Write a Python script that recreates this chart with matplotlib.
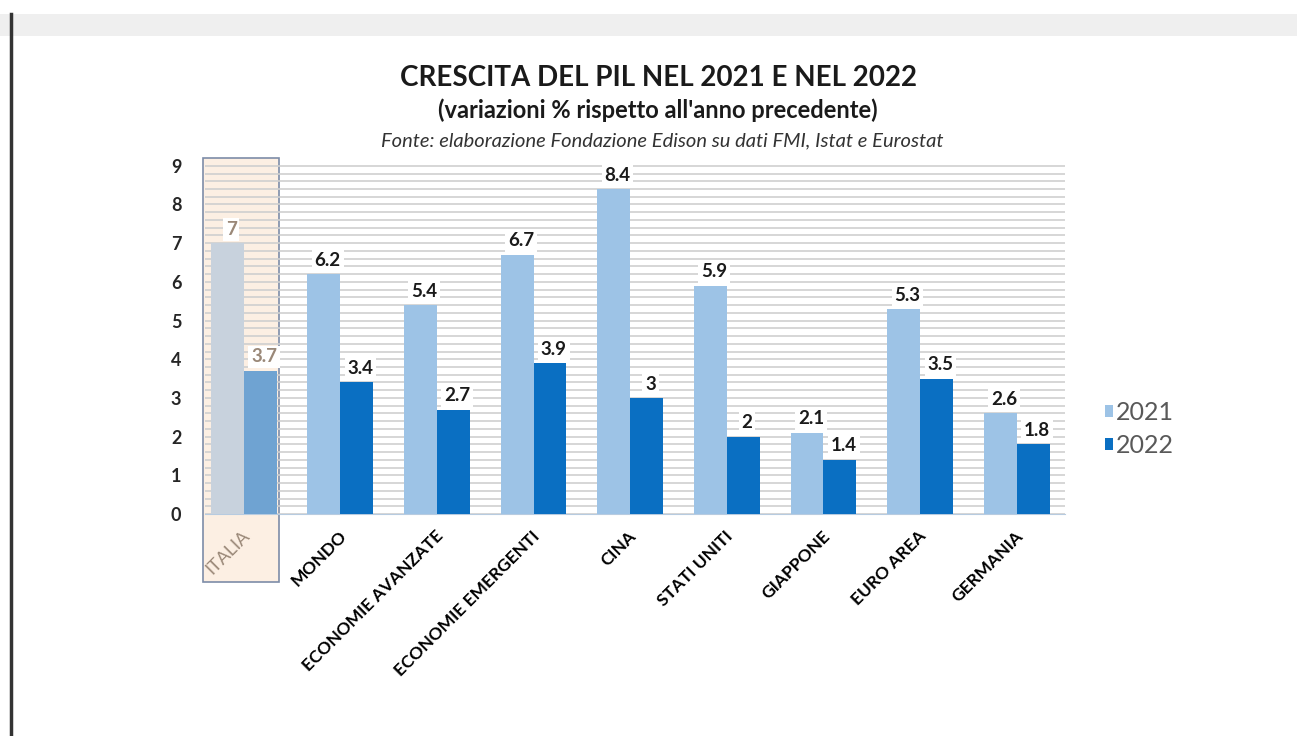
import numpy as np
import matplotlib.pyplot as plt
from matplotlib.patches import Rectangle

plt.rcParams['font.family'] = ['Lato', 'DejaVu Sans']

categories = ["ITALIA", "MONDO", "ECONOMIE AVANZATE", "ECONOMIE EMERGENTI", "CINA",
              "STATI UNITI", "GIAPPONE", "EURO AREA", "GERMANIA"]
pil_2021 = [7.0, 6.2, 5.4, 6.7, 8.4, 5.9, 2.1, 5.3, 2.6]
pil_2022 = [3.7, 3.4, 2.7, 3.9, 3.0, 2.0, 1.4, 3.5, 1.8]
lab_2021 = ["7", "6.2", "5.4", "6.7", "8.4", "5.9", "2.1", "5.3", "2.6"]
lab_2022 = ["3.7", "3.4", "2.7", "3.9", "3", "2", "1.4", "3.5", "1.8"]
years = ["2021", "2022"]

c21, c22 = "#9dc3e6", "#0a6fc2"
c21_it, c22_it = "#c8d2dd", "#6fa3d2"
it_txt = "#9a8878"

fig = plt.figure(figsize=(12.97, 7.36), dpi=100)
ax = fig.add_axes([205/1297, 1-514/736, (1065-205)/1297, (514-160)/736])

x = np.arange(len(categories))
w = 0.34
cols21 = [c21_it] + [c21]*(len(x)-1)
cols22 = [c22_it] + [c22]*(len(x)-1)
b1 = ax.bar(x - w/2 + 0.02, pil_2021, w, color=cols21, zorder=3, label=years[0])
b2 = ax.bar(x + w/2 + 0.02, pil_2022, w, color=cols22, zorder=3, label=years[1])

for i in x:
    tc = it_txt if i == 0 else "#1a1a1a"
    for xx, v, t in [(i - w/2, pil_2021[i], lab_2021[i]), (i + w/2, pil_2022[i], lab_2022[i])]:
        ax.text(xx + 0.06, v + 0.14, t, ha="center", va="bottom", fontsize=13.5,
                fontweight="bold", color=tc, zorder=5,
                bbox=dict(boxstyle="square,pad=0.15", fc="white", ec="none"))

# highlight box for Italy
ax.add_patch(Rectangle((-0.40, -1.76), 0.79, 9.2 + 1.76, transform=ax.transData,
                       facecolor="#fcefe3", edgecolor="#7d8ca8", lw=1.2,
                       clip_on=False, zorder=0.5))

ax.set_xlim(-0.38, 8.52)
ax.set_ylim(0, 9.15)
ax.set_yticks(range(0, 10))
ax.set_yticks(np.arange(0, 9.2, 0.2), minor=True)
ax.grid(axis="y", which="both", color="#cfcfcf", lw=1.2, zorder=1)
ax.set_axisbelow(True)
ax.tick_params(axis="y", which="both", length=0, pad=17, labelsize=13)
for lbl in ax.get_yticklabels():
    lbl.set_fontweight("bold")
    lbl.set_color("#262626")
ax.set_xticks(x)
ax.set_xticklabels(categories, rotation=45, ha="right", rotation_mode="anchor",
                   fontsize=12.5, fontweight="bold")
ax.get_xticklabels()[0].set_color(it_txt)
ax.get_xticklabels()[0].set_fontweight("normal")
ax.get_xticklabels()[0].set_fontsize(13)
ax.tick_params(axis="x", length=0, pad=10)
for s in ["top", "right", "left"]:
    ax.spines[s].set_visible(False)
ax.spines["bottom"].set_color("#b7cbe0")
ax.patch.set_alpha(0)

leg = fig.legend(handles=[b1.patches[1], b2.patches[1]], labels=years, loc="center left",
                 bbox_to_anchor=(1082/1297, 1-429/736), frameon=False, fontsize=18,
                 handlelength=0.35, handleheight=0.35, handletextpad=0.1, labelspacing=0.4)
for t in leg.get_texts():
    t.set_color("#595959")

fig.text(658/1297, 1-78/736, "CRESCITA DEL PIL NEL 2021 E NEL 2022", ha="center", va="center",
         fontsize=20, fontweight="bold", color="#1a1a1a")
fig.text(658/1297, 1-110/736, "(variazioni % rispetto all'anno precedente)", ha="center",
         va="center", fontsize=17, fontweight="bold", color="#1a1a1a")
fig.text(662/1297, 1-141/736, "Fonte: elaborazione Fondazione Edison su dati FMI, Istat e Eurostat",
         ha="center", va="center", fontsize=14.5, style="italic", color="#333333")

# page frame
fig.add_artist(Rectangle((0, 1-36/736), 1, 22/736, transform=fig.transFigure,
                         facecolor="#efefef", edgecolor="none"))
fig.add_artist(plt.Line2D([11/1297, 11/1297], [0, 1-14/736], transform=fig.transFigure,
                          color="#333333", lw=2.5))

fig.savefig("out.png", dpi=100)
